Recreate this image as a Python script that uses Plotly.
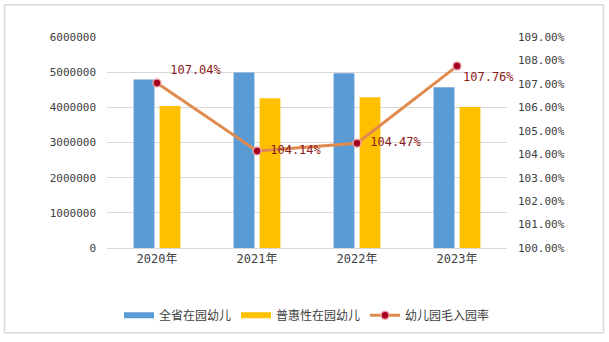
import plotly.graph_objects as go

categories = ["2020年", "2021年", "2022年", "2023年"]
total_children = [4790000, 4990000, 4970000, 4570000]
inclusive_children = [4040000, 4260000, 4290000, 4010000]
enroll_rate = [107.04, 104.14, 104.47, 107.76]
rate_labels = ["107.04%", "104.14%", "104.47%", "107.76%"]
label_pos = ["top right", "middle right", "middle right", "bottom right"]
series_names = ["全省在园幼儿", "普惠性在园幼儿", "幼儿园毛入园率"]

W, H = 609, 342
L, R, T, B = 107, 102, 37, 92
pw, ph = W - L - R, H - T - B

mono = "DejaVu Sans Mono, Noto Sans CJK SC, monospace"
cjk = "Noto Sans CJK SC, DejaVu Sans, sans-serif"
blue, yellow = "#5B9BD5", "#FFC000"
line_c, mark_c = "#E08A4E", "#A50021"

shown_labels = ["\u00a0" + t if p != "bottom right" else t
                for t, p in zip(rate_labels, label_pos)]

fig = go.Figure()
fig.add_trace(go.Bar(x=categories, y=total_children, name=series_names[0], showlegend=False,
                     marker=dict(color=blue, line=dict(width=0))))
fig.add_trace(go.Bar(x=categories, y=inclusive_children, name=series_names[1], showlegend=False,
                     marker=dict(color=yellow, line=dict(width=0))))
fig.add_trace(go.Scatter(x=categories, y=enroll_rate, name=series_names[2], yaxis="y2",
                         mode="lines+markers+text", text=shown_labels, showlegend=False,
                         textposition=label_pos, cliponaxis=False,
                         textfont=dict(color="#8B1A1A", size=12, family=mono),
                         line=dict(color=line_c, width=3),
                         marker=dict(color=mark_c, size=8,
                                     line=dict(color="rgba(240,170,170,0.9)", width=1.5))))
# legend entries
fig.add_trace(go.Scatter(x=[None], y=[None], name=series_names[0], mode="lines",
                         line=dict(color=blue, width=6)))
fig.add_trace(go.Scatter(x=[None], y=[None], name=series_names[1], mode="lines",
                         line=dict(color=yellow, width=6)))
fig.add_trace(go.Scatter(x=[None], y=[None], name=series_names[2], mode="lines+markers",
                         line=dict(color=line_c, width=3),
                         marker=dict(color=mark_c, size=8,
                                     line=dict(color="rgba(240,170,170,0.9)", width=1.5))))

def px(x):
    return (x - L) / pw

def py(y):
    return (H - B - y) / ph

fig.update_layout(
    width=W, height=H,
    margin=dict(l=L, r=R, t=T, b=B),
    paper_bgcolor="white", plot_bgcolor="white",
    font=dict(family=mono, size=11, color="#404040"),
    barmode="group", bargap=0.48, bargroupgap=0.2,
    showlegend=True,
    legend=dict(orientation="h", x=0.5, xanchor="center", y=py(318), yanchor="middle",
                font=dict(size=12, color="#404040", family=cjk), traceorder="normal",
                itemwidth=30, tracegroupgap=0),
    xaxis=dict(showgrid=False, showline=True, linecolor="#d9d9d9", linewidth=1,
               ticks="", tickfont=dict(size=12, color="#404040", family=mono)),
    yaxis=dict(range=[0, 6000000], dtick=1000000, tickformat="d",
               showgrid=True, gridcolor="#d9d9d9", gridwidth=1,
               zeroline=False, ticks="", ticklabelstandoff=10,
               tickfont=dict(size=11, color="#404040", family=mono)),
    yaxis2=dict(range=[100, 109], dtick=1, overlaying="y", side="right",
                showgrid=False, zeroline=False, ticks="", ticksuffix="%",
                tickformat=".2f", ticklabelstandoff=10,
                tickfont=dict(size=11, color="#404040", family=mono)),
    shapes=[dict(type="rect", xref="paper", yref="paper",
                 x0=px(4.5), x1=px(603.5), y0=py(335.5), y1=py(4.5),
                 line=dict(color="#d9d9d9", width=1.5), fillcolor="rgba(0,0,0,0)",
                 layer="below")],
)

fig.write_html("out.html")
